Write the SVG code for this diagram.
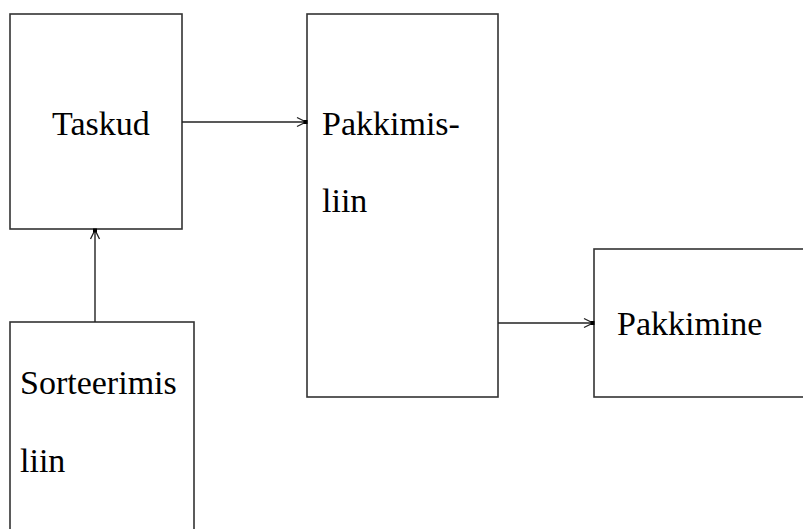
<svg xmlns="http://www.w3.org/2000/svg" width="803" height="529" viewBox="0 0 803 529">
<style>
.box{fill:#fff;stroke:#333;stroke-width:1.6}
.lbl{font-family:"Liberation Serif","DejaVu Serif",serif;font-size:34px;fill:#000}
.con{stroke:#222;stroke-width:1.4;fill:none}
</style>
<defs>
<marker id="ah" markerUnits="userSpaceOnUse" markerWidth="14" markerHeight="12" refX="12" refY="6" orient="auto">
<path d="M2,1.5 L11,6 L2,10.5" fill="none" stroke="#222" stroke-width="1.3"/>
<rect x="8.5" y="4" width="4" height="4" fill="#000"/>
</marker>
</defs>
<rect width="803" height="529" fill="#fff"/>
<g id="taskud">
<rect class="box" x="10" y="14" width="172" height="215"/>
<text class="lbl" x="52" y="135" font-family="Liberation Serif">Taskud</text>
</g>
<g id="pakkimisliin">
<rect class="box" x="307" y="14" width="191" height="383"/>
<text class="lbl" x="322" y="135" font-family="Liberation Serif">Pakkimis-</text>
<text class="lbl" x="322" y="212" font-family="Liberation Serif">liin</text>
</g>
<g id="pakkimine">
<rect class="box" x="594" y="249" width="220" height="148"/>
<text class="lbl" x="617" y="335" font-family="Liberation Serif">Pakkimine</text>
</g>
<g id="sorteerimisliin">
<rect class="box" x="10" y="322" width="184" height="220"/>
<text class="lbl" x="20" y="394" font-family="Liberation Serif">Sorteerimis</text>
<text class="lbl" x="20" y="472" font-family="Liberation Serif">liin</text>
</g>
<g id="connectors">
<line class="con" x1="182" y1="122" x2="307" y2="122" marker-end="url(#ah)"/>
<line class="con" x1="498" y1="323" x2="594" y2="323" marker-end="url(#ah)"/>
<line class="con" x1="95" y1="322" x2="95" y2="229" marker-end="url(#ah)"/>
</g>
</svg>
